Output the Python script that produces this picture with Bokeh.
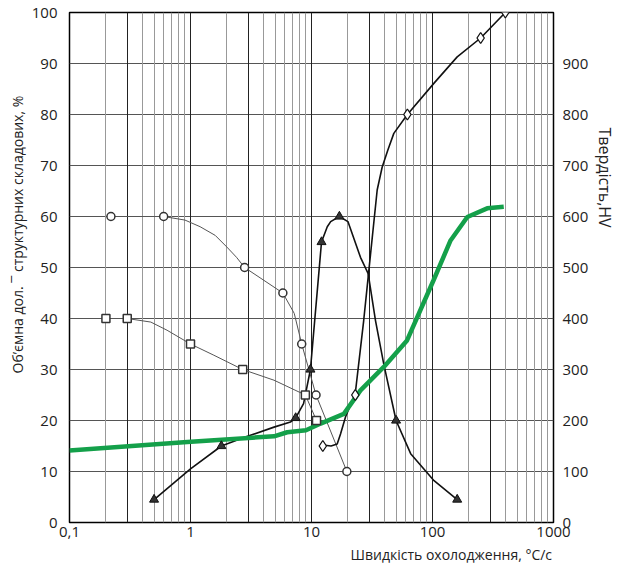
from bokeh.plotting import figure
from bokeh.models import Range1d, LinearAxis, FixedTicker, Grid, Title
from bokeh.embed import file_html
from bokeh.resources import INLINE

# ---- data ----
x_ticks = [0.1, 1, 10, 100, 1000]
x_tick_labels = ["0,1", "1", "10", "100", "1000"]
y_ticks = [0, 10, 20, 30, 40, 50, 60, 70, 80, 90, 100]
hv_ticks = [0, 100, 200, 300, 400, 500, 600, 700, 800, 900]

# circles
circ_x = [0.22, 0.6, 2.8, 5.8, 8.3, 10.9, 19.6]
circ_y = [60, 60, 50, 45, 35, 25, 10]
circ_curve_x = [0.22, 0.6, 0.9, 1.2, 1.6, 2.0, 2.4, 2.8, 5.8, 7.2, 8.3, 10.9, 19.6]
circ_curve_y = [60, 60, 59.3, 58, 56.3, 54, 52, 50, 45, 41, 35, 25, 10]

# squares
sq_x = [0.2, 0.3, 1.0, 2.7, 8.9, 11]
sq_y = [40, 40, 35, 30, 25, 20]
sq_curve_x = [0.2, 0.3, 0.47, 0.64, 1.0, 1.56, 2.7, 4.9, 8.9, 11]
sq_curve_y = [40, 40, 39.3, 37.7, 35, 32.8, 30, 27.9, 25, 20]

# triangles
tri_x = [0.5, 1.8, 7.4, 9.8, 12.1, 17, 50, 160]
tri_y = [4.5, 15, 20.5, 30, 55, 60, 20, 4.5]
tri_curve_x = [0.5, 1.0, 1.8, 2.8, 4.9, 6.7, 7.4, 8.6, 9.8, 12.1, 13.5, 14.4, 17,
               20, 25.4, 29.4, 33.8, 39.6, 50, 66, 103, 160]
tri_curve_y = [4.5, 10.5, 15, 16.7, 18.7, 19.7, 20.5, 23.3, 30, 55, 58, 59, 60,
               59, 52, 48.8, 39.6, 31, 20, 13.5, 8.2, 4.5]

# diamonds
dia_x = [12.4, 23, 62, 250, 400]
dia_y = [15, 25, 80, 95, 100]
dia_curve_x = [12.4, 14.5, 16.3, 17.4, 19.1, 23, 27, 29.6, 34.9, 38.4, 42.7, 47.9,
               62, 102.6, 160, 250, 400]
dia_curve_y = [15.2, 15, 15.4, 17.4, 20.7, 25.3, 39.6, 48.8, 65.2, 69.7, 73, 76.3,
               80, 86.1, 91.3, 95, 100]

# hardness (HV, right axis)
hv_x = [0.1, 0.94, 4.9, 6.3, 9, 11.9, 18.5, 25.4, 39.6, 61.6, 102, 141, 194, 283, 388]
hv_y = [141, 158, 169, 177, 181, 194, 213, 259, 305, 357, 475, 553, 599, 616, 619]

FONT = "Open Sans"
TXT = "#222222"

p = figure(x_axis_type="log", x_range=Range1d(0.1, 1000), y_range=Range1d(0, 100),
           frame_width=484, frame_height=510,
           min_border_left=69, min_border_right=64, min_border_top=12, min_border_bottom=46,
           output_backend="svg", toolbar_location=None)
p.extra_y_ranges = {"hv": Range1d(0, 1000)}

# grids
p.xgrid.grid_line_color = None
p.ygrid.ticker = FixedTicker(ticks=y_ticks)
p.ygrid.grid_line_color = "#555555"
p.ygrid.grid_line_width = 1

minor_lines = []
dark_lines = []
for k in range(-1, 3):
    for m in range(1, 10):
        v = m * 10 ** k
        if m in (1, 3):
            dark_lines.append(v)
        else:
            minor_lines.append(v)
p.add_layout(Grid(dimension=0, ticker=FixedTicker(ticks=minor_lines),
                  grid_line_color="#999999", grid_line_width=1))
p.add_layout(Grid(dimension=0, ticker=FixedTicker(ticks=dark_lines),
                  grid_line_color="#222222", grid_line_width=1))

# axes
p.xaxis.ticker = FixedTicker(ticks=x_ticks, minor_ticks=[])
p.xaxis.major_label_overrides = {t: l for t, l in zip(x_ticks, x_tick_labels)}
p.yaxis.ticker = FixedTicker(ticks=y_ticks, minor_ticks=[])
ax_r = LinearAxis(y_range_name="hv", ticker=FixedTicker(ticks=hv_ticks, minor_ticks=[]))
p.add_layout(ax_r, "right")

for ax in (p.xaxis[0], p.yaxis[0], ax_r):
    ax.axis_line_color = None
    ax.major_tick_line_color = None
    ax.minor_tick_line_color = None
    ax.major_tick_out = 0
    ax.minor_tick_out = 0
    ax.major_tick_in = 0
    ax.minor_tick_in = 0
    ax.major_label_text_font = FONT
    ax.major_label_text_font_size = "15px"
    ax.major_label_text_color = TXT
p.yaxis[0].major_label_standoff = 12
ax_r.major_label_standoff = 9
p.xaxis[0].major_label_standoff = 4

p.outline_line_color = "black"
p.outline_line_width = 1.5

# series
p.line(circ_curve_x, circ_curve_y, line_color="#555555", line_width=1)
p.line(sq_curve_x, sq_curve_y, line_color="#555555", line_width=1)
p.line(tri_curve_x, tri_curve_y, line_color="#111111", line_width=1.6)
p.line(dia_curve_x, dia_curve_y, line_color="#111111", line_width=1.6)
p.line(hv_x, hv_y, y_range_name="hv", line_color="#14a04a", line_width=4.5)

p.scatter(circ_x, circ_y, marker="circle", size=8, fill_color="white",
          line_color="#333333", line_width=1.5)
p.scatter(sq_x, sq_y, marker="square", size=8, fill_color="white",
          line_color="#333333", line_width=1.5)
p.scatter(tri_x, tri_y, marker="triangle", size=9, fill_color="#333333",
          line_color="#111111", line_width=1)
p.scatter(dia_x, dia_y, marker="diamond", size=11, fill_color="white",
          line_color="#111111", line_width=1.3)

# titles in the side panels
p.add_layout(Title(text="Об’ємна дол. ¯ структурних складових, %", align="left",
                   offset=149, standoff=3, text_font=FONT, text_font_size="14px",
                   text_font_style="normal", text_color=TXT), "left")
p.add_layout(Title(text="Твердість,HV", align="left", offset=115, standoff=4,
                   text_font=FONT, text_font_size="16px",
                   text_font_style="normal", text_color=TXT), "right")
p.add_layout(Title(text="Швидкість охолодження, °C/c", align="left", offset=281,
                   standoff=6, text_font=FONT, text_font_size="14px",
                   text_font_style="normal", text_color=TXT), "below")

open("out.html", "w").write(file_html(p, INLINE))
